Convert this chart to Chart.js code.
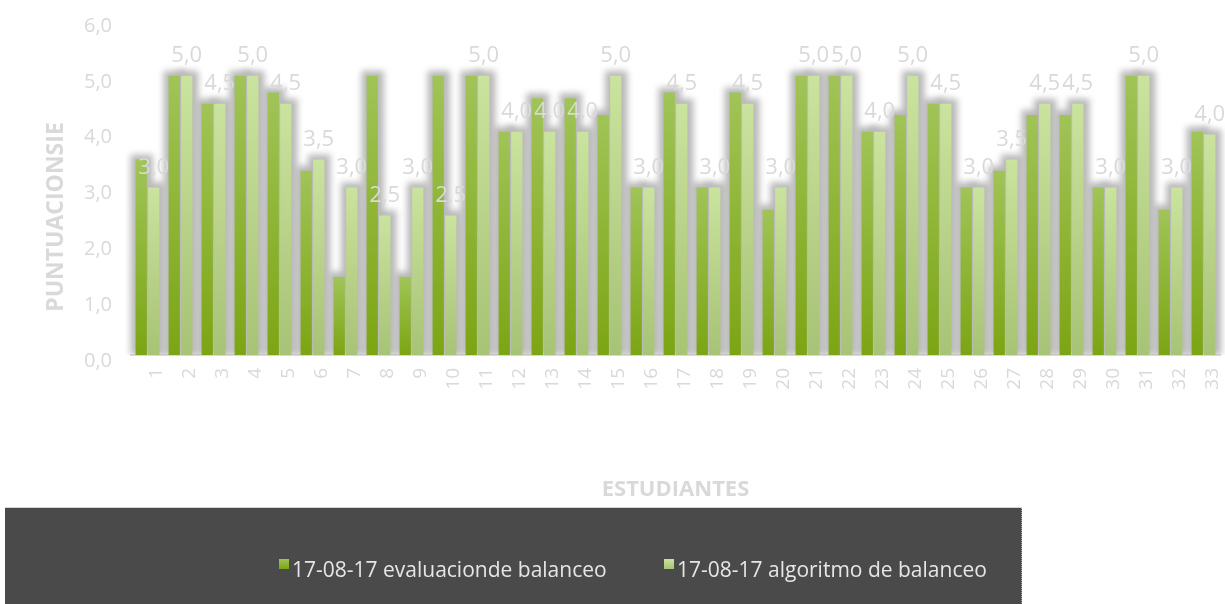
<!DOCTYPE html>
<html>
<head>
<meta charset="utf-8">
<script src="https://cdn.jsdelivr.net/npm/chart.js@4/dist/chart.umd.min.js"></script>
<style>
html,body{margin:0;padding:0;background:#ffffff;overflow:hidden}
#wrap{width:1225px;height:604px;position:relative}
</style>
</head>
<body>
<div id="wrap"><canvas id="c" width="1225" height="604"></canvas></div>
<script>
const categories = ['1','2','3','4','5','6','7','8','9','10','11','12','13','14','15','16','17','18','19','20','21','22','23','24','25','26','27','28','29','30','31','32','33'];
const evaluacion = [3.5,5.0,4.5,5.0,4.7,3.3,1.4,5.0,1.4,5.0,5.0,4.0,4.6,4.6,4.3,3.0,4.7,3.0,4.7,2.6,5.0,5.0,4.0,4.3,4.5,3.0,3.3,4.3,4.3,3.0,5.0,2.6,4.0];
const algoritmo = [3.0,5.0,4.5,5.0,4.5,3.5,3.0,2.5,3.0,2.5,5.0,4.0,4.0,4.0,5.0,3.0,4.5,3.0,4.5,3.0,5.0,5.0,4.0,5.0,4.5,3.0,3.5,4.5,4.5,3.0,5.0,3.0,3.95];
const seriesNames = ['17-08-17 evaluacionde balanceo','17-08-17 algoritmo de balanceo'];
const yTicks = [0,1,2,3,4,5,6];
const yTitle = 'PUNTUACIONSIE';
const xTitle = 'ESTUDIANTES';

const GRAY = '#d9d9d9';
const DARK = ['#a0c457', '#7ca513'];
const LIGHT = ['#cae39e', '#a7c375'];
const fmt = v => Number(v).toFixed(1).replace('.', ',');

function barGrad(stops) {
  return (ctx) => {
    const chart = ctx.chart;
    const ca = chart.chartArea;
    if (!ca || ctx.type !== 'data' || !chart.scales.y) return stops[1];
    const top = chart.scales.y.getPixelForValue(ctx.raw);
    const g = chart.ctx.createLinearGradient(0, top, 0, ca.bottom);
    g.addColorStop(0, stops[0]);
    g.addColorStop(1, stops[1]);
    return g;
  };
}

const decor = {
  id: 'decor',
  beforeDatasetsDraw(chart) {
    // soft gray halo behind every bar (Excel-style outer shadow)
    const c = chart.ctx;
    const ca = chart.chartArea;
    c.save();
    c.beginPath();
    c.rect(ca.left - 6, ca.top - 10, ca.right - ca.left + 12, ca.bottom - ca.top + 10);
    c.clip();
    c.filter = 'blur(3px)';
    c.fillStyle = '#b9b9b9';
    chart.data.datasets.forEach((ds, di) => {
      chart.getDatasetMeta(di).data.forEach(bar => {
        const w = bar.width;
        c.fillRect(bar.x - w / 2 - 5, bar.y - 5, w + 11, bar.base - bar.y + 5);
      });
    });
    c.restore();
  },
  afterDatasetsDraw(chart) {
    const c = chart.ctx;
    const meta = chart.getDatasetMeta(1);
    c.save();
    c.font = '22px "Open Sans"';
    c.fillStyle = GRAY;
    c.textAlign = 'center';
    c.textBaseline = 'middle';
    meta.data.forEach((bar, i) => {
      c.fillText(fmt(chart.data.datasets[1].data[i]), bar.x, bar.y - 20);
    });
    c.restore();
  },
  afterDraw(chart) {
    const c = chart.ctx;
    c.save();
    c.translate(56, 217);
    c.rotate(-Math.PI / 2);
    c.font = 'bold 23px "Open Sans"';
    c.fillStyle = GRAY;
    c.textAlign = 'center';
    c.textBaseline = 'middle';
    c.fillText(yTitle, 0, 0);
    c.restore();

    c.save();
    c.fillStyle = '#4a4a4a';
    c.fillRect(5, 508, 1017, 96);
    c.fillStyle = '#d4d4d4';
    c.fillRect(5, 507, 1017, 1);
    c.strokeStyle = '#aaaaaa';
    c.setLineDash([1, 1]);
    c.beginPath();
    c.moveTo(1021.5, 508);
    c.lineTo(1021.5, 604);
    c.stroke();
    c.setLineDash([]);
    const items = [
      {x: 279, stops: DARK, text: chart.data.datasets[0].label},
      {x: 664, stops: LIGHT, text: chart.data.datasets[1].label}
    ];
    c.font = '21px "Open Sans"';
    c.textBaseline = 'alphabetic';
    c.textAlign = 'left';
    items.forEach(it => {
      const g = c.createLinearGradient(0, 559, 0, 569);
      g.addColorStop(0, it.stops[0]);
      g.addColorStop(1, it.stops[1]);
      c.fillStyle = g;
      c.fillRect(it.x, 559, 10, 10);
      c.fillStyle = '#e6e6e6';
      c.fillText(it.text, it.x + 13, 577);
    });
    c.restore();
  }
};

new Chart(document.getElementById('c'), {
  type: 'bar',
  data: {
    labels: categories,
    datasets: [
      {label: seriesNames[0], data: evaluacion, backgroundColor: barGrad(DARK), borderWidth: 0,
       categoryPercentage: 0.76, barPercentage: 0.9},
      {label: seriesNames[1], data: algoritmo, backgroundColor: barGrad(LIGHT), borderWidth: 0,
       categoryPercentage: 0.76, barPercentage: 0.9}
    ]
  },
  options: {
    responsive: false,
    animation: false,
    events: [],
    layout: {padding: {top: 20, right: 5, bottom: 101, left: 0}},
    plugins: {legend: {display: false}, tooltip: {enabled: false}, title: {display: false}},
    scales: {
      x: {
        grid: {display: true, drawOnChartArea: false, drawTicks: false, color: 'rgba(0,0,0,0)'},
        border: {display: true, color: GRAY, width: 2},
        ticks: {color: GRAY, font: {family: 'Open Sans', size: 19}, padding: 13,
                minRotation: 90, maxRotation: 90, labelOffset: 9, autoSkip: false},
        title: {display: true, text: xTitle, color: GRAY,
                font: {family: 'Open Sans', size: 22, weight: 'bold'}, padding: {top: 0, bottom: 0}},
        afterFit(scale) { scale.height = 148; scale.paddingLeft = 0; scale.paddingRight = 0; }
      },
      y: {
        min: 0, max: 6,
        afterBuildTicks(scale) { scale.ticks = yTicks.map(v => ({value: v})); },
        grid: {display: false, drawTicks: false},
        border: {display: false},
        ticks: {color: GRAY, font: {family: 'Open Sans', size: 20}, padding: 19, labelOffset: 6,
                callback: v => fmt(v)},
        afterFit(scale) { scale.width = 131; scale.paddingTop = 0; scale.paddingBottom = 0; }
      }
    }
  },
  plugins: [decor]
});
</script>
</body>
</html>
